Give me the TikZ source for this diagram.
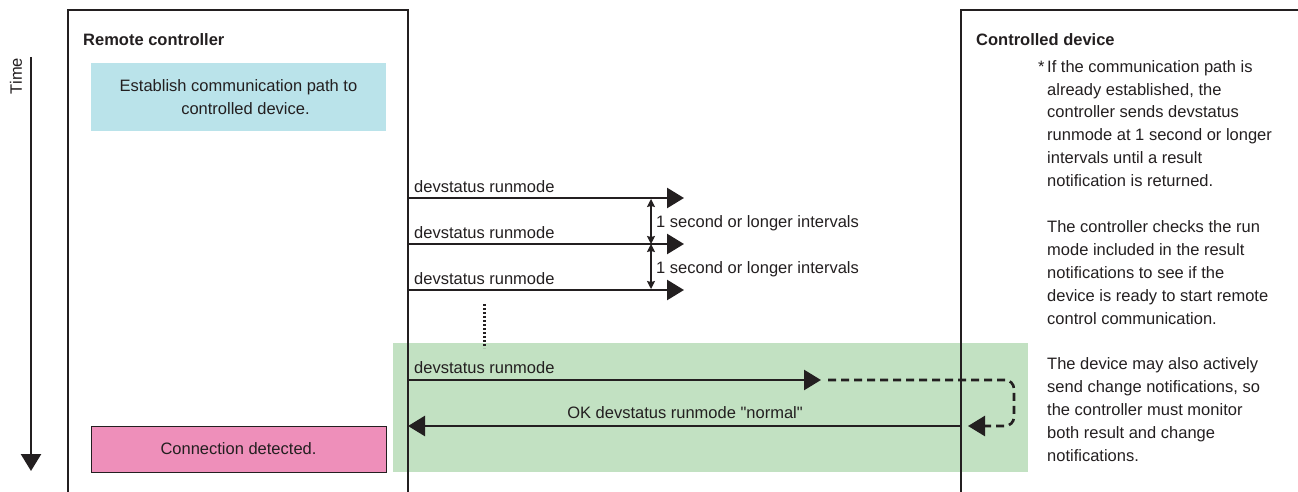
\documentclass[tikz,border=0pt]{standalone}
\usepackage{fontspec}
\setmainfont{Liberation Sans}[Ligatures=TeXOff]
\usetikzlibrary{arrows.meta}
\definecolor{ink}{HTML}{231F20}
\definecolor{bluebox}{HTML}{BAE3EA}
\definecolor{pinkbox}{HTML}{EE8FBA}
\definecolor{greenbg}{HTML}{C2E1C2}
\tikzset{
  txt/.style={font=\fontsize{16.5}{22.9}\selectfont, text=ink, inner sep=0pt},
  boldtxt/.style={txt, font=\fontsize{16.5}{22.9}\selectfont\bfseries},
  frame/.style={draw=ink, line width=2pt},
  msg/.style={draw=ink, line width=2.6pt, -{Triangle[length=17pt,width=20pt]}},
  interval/.style={draw=ink, line width=1.2pt, {Stealth[length=8pt,width=8pt,inset=1pt]}-{Stealth[length=8pt,width=8pt,inset=1pt]}},
  loop/.style={draw=ink, line width=2.6pt, dash pattern=on 8pt off 5pt, rounded corners=9pt, -{Triangle[length=17pt,width=20pt]}},
  dots/.style={draw=ink, line width=3pt, dash pattern=on 2pt off 2pt},
  actbox/.style={txt, minimum width=295pt, align=center}
}
\begin{document}
\begin{tikzpicture}[x=1pt,y=-1pt]
\useasboundingbox (0,0) rectangle (1298,492);
% green region
\fill[greenbg] (393,343) rectangle (1028,472);
% frames / lifelines
\coordinate (lb) at (68,492);
\coordinate (lt) at (68,10);
\coordinate (rt) at (408,10);
\coordinate (rb) at (408,492);
\draw[frame] (lb) -- (lt) -- (rt) -- (rb);
\coordinate (db) at (961,492);
\coordinate (dt) at (961,10);
\coordinate (de) at (1298,10);
\draw[frame] (db) -- (dt) -- (de);
% time axis
\node[txt, rotate=90] (time) at (16,76) {Time};
\coordinate (t0) at (31,57);
\coordinate (t1) at (31,471);
\draw[draw=ink, line width=2.6pt, -{Triangle[length=17pt,width=20pt]}] (t0) -- (t1);
% titles
\node[boldtxt, anchor=base west] (rc) at (83,46) {Remote controller};
\node[boldtxt, anchor=base west] (cd) at (976,46) {Controlled device};
% boxes
\node[actbox, fill=bluebox, minimum height=68pt] (est) at (238.5,97) {Establish communication path to\\\hspace*{14pt}controlled device.};
\node[actbox, fill=pinkbox, draw=ink, line width=0.8pt, minimum height=46pt] (conn) at (238.5,449) {Connection detected.};
% messages
\coordinate (s1) at (408,198); \coordinate (e1) at (684,198);
\coordinate (s2) at (408,244); \coordinate (e2) at (684,244);
\coordinate (s3) at (408,290); \coordinate (e3) at (684,290);
\draw[msg] (s1) -- (e1);
\draw[msg] (s2) -- (e2);
\draw[msg] (s3) -- (e3);
\node[txt, anchor=base west] (m1) at (414,192) {devstatus runmode};
\node[txt, anchor=base west] (m2) at (414,238) {devstatus runmode};
\node[txt, anchor=base west] (m3) at (414,284) {devstatus runmode};
% intervals
\coordinate (i1) at (651,199); \coordinate (i2) at (651,244); \coordinate (i3) at (651,289);
\draw[interval] (i1) -- (i2);
\draw[interval] (i2) -- (i3);
\node[txt, anchor=base west] (iv1) at (656,227) {1 second or longer intervals};
\node[txt, anchor=base west] (iv2) at (656,273) {1 second or longer intervals};
% continuation dots
\coordinate (d0) at (484,304); \coordinate (d1) at (484,348);
\draw[dots] (d0) -- (d1);
% final exchange
\coordinate (s4) at (408,380); \coordinate (e4) at (821,380);
\draw[msg] (s4) -- (e4);
\node[txt, anchor=base west] (m4) at (414,373) {devstatus runmode};
\coordinate (l0) at (828,380); \coordinate (l1) at (1014,380);
\coordinate (l2) at (1014,426); \coordinate (l3) at (968,426);
\draw[loop] (l0) -- (l1) -- (l2) -- (l3);
\coordinate (rs) at (961,426); \coordinate (re) at (408,426);
\draw[msg] (rs) -- (re);
\node[txt, anchor=base] (ok) at (685,418) {OK devstatus runmode "normal"};
% notes
\node[txt, anchor=north west, align=left] (note) at (1047,60) {%
\llap{*\,}If the communication path is\\
already established, the\\
controller sends devstatus\\
runmode at 1 second or longer\\
intervals until a result\\
notification is returned.\\[22.9pt]
The controller checks the run\\
mode included in the result\\
notifications to see if the\\
device is ready to start remote\\
control communication.\\[22.9pt]
The device may also actively\\
send change notifications, so\\
the controller must monitor\\
both result and change\\
notifications.};
\end{tikzpicture}
\end{document}
